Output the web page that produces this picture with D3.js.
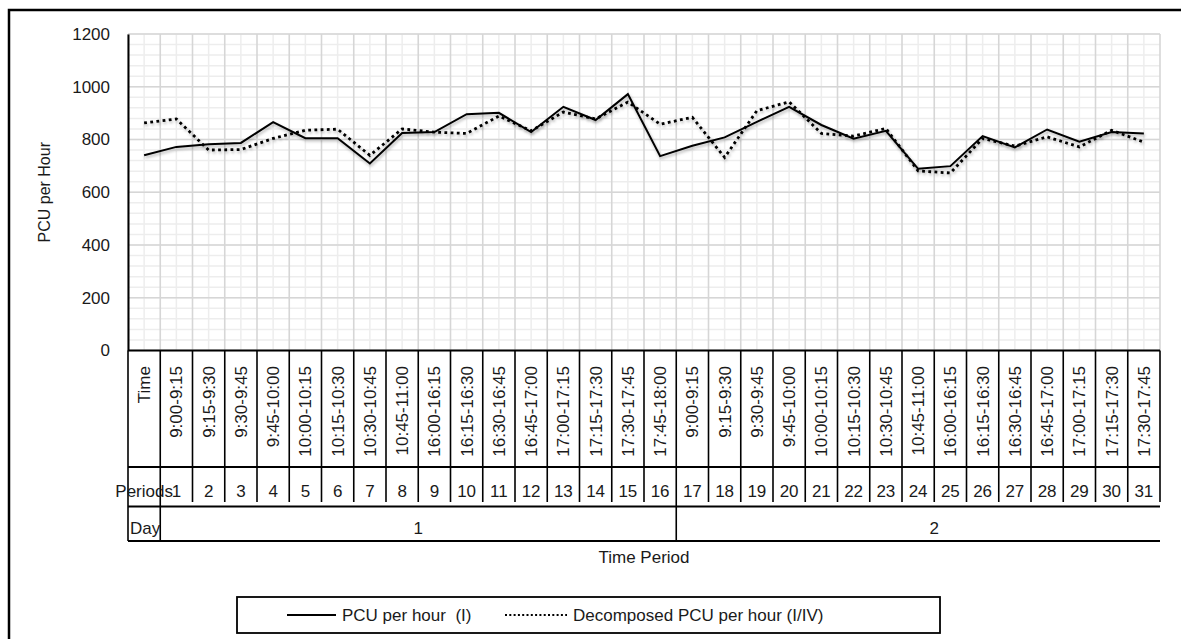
<!DOCTYPE html>
<html><head><meta charset="utf-8">
<script src="https://cdn.jsdelivr.net/npm/d3@7"></script>
<style>
body{margin:0;background:#fff}
svg{display:block}
text{font-family:"Liberation Sans",Arial,sans-serif;fill:#1a1a1a;white-space:pre}
</style></head>
<body><svg id="c" width="1181" height="639"></svg>
<script>
// ---- data ----
const headerLabels = ["Time", "Periods", "Day"];
const timeLabels = ["9:00-9:15","9:15-9:30","9:30-9:45","9:45-10:00","10:00-10:15","10:15-10:30","10:30-10:45","10:45-11:00","16:00-16:15","16:15-16:30","16:30-16:45","16:45-17:00","17:00-17:15","17:15-17:30","17:30-17:45","17:45-18:00","9:00-9:15","9:15-9:30","9:30-9:45","9:45-10:00","10:00-10:15","10:15-10:30","10:30-10:45","10:45-11:00","16:00-16:15","16:15-16:30","16:30-16:45","16:45-17:00","17:00-17:15","17:15-17:30","17:30-17:45"];
const periods = [1,2,3,4,5,6,7,8,9,10,11,12,13,14,15,16,17,18,19,20,21,22,23,24,25,26,27,28,29,30,31];
const days = ["1","2"];
const dayPeriodCount = [16,15];
const pcuPerHour = [740,772,782,787,866,805,805,709,825,828,896,901,828,924,874,972,737,776,808,867,924,855,803,833,689,699,813,770,838,792,828,823];
const decomposedPcu = [863,878,760,762,804,835,839,740,840,828,823,889,833,904,878,942,858,884,732,909,943,823,813,842,681,673,804,775,810,772,835,790];
const yTicks = [0,200,400,600,800,1000,1200];
const seriesNames = ["PCU per hour  (I)", "Decomposed PCU per hour (I/IV)"];

// ---- layout ----
const svg = d3.select("#c");
const L = 128, R = 1160, T = 34, B = 350.5;
const nCols = periods.length + 1;
const x = d3.scaleBand().domain(d3.range(nCols)).range([L, R]).padding(0);
const bw = x.bandwidth();
const cx = i => x(i) + bw / 2;
const y = d3.scaleLinear().domain([0, 1200]).range([B, T]);

svg.append("rect").attr("width",1181).attr("height",639).attr("fill","#fff");
// outer border (left and top edges visible)
svg.append("path").attr("d","M9,639 L9,10 L1181,10")
  .attr("fill","none").attr("stroke","#000").attr("stroke-width",2.5);

const defs = svg.append("defs");
const f = defs.append("filter").attr("id","sh").attr("x","-5%").attr("y","-20%").attr("width","110%").attr("height","140%");
f.append("feDropShadow").attr("dx",1).attr("dy",2).attr("stdDeviation",1.6)
  .attr("flood-color","#000").attr("flood-opacity",0.3);

// minor grid
const grid = svg.append("g");
grid.selectAll(".hmin").data(d3.range(0, 1201, 40)).join("line")
  .attr("x1", L).attr("x2", R).attr("y1", d => y(d)).attr("y2", d => y(d))
  .attr("stroke", "#ededed").attr("stroke-width", 1.5);
grid.selectAll(".vmin").data(d3.range(nCols)).join("line")
  .attr("x1", d => cx(d)).attr("x2", d => cx(d)).attr("y1", T).attr("y2", B)
  .attr("stroke", "#ededed").attr("stroke-width", 1.5);
// major grid
grid.selectAll(".hmaj").data(yTicks).join("line")
  .attr("x1", L).attr("x2", R).attr("y1", d => y(d)).attr("y2", d => y(d))
  .attr("stroke", "#d6d6d6").attr("stroke-width", 1.6);
grid.selectAll(".vmaj").data(d3.range(nCols + 1)).join("line")
  .attr("x1", d => L + d * bw).attr("x2", d => L + d * bw).attr("y1", T).attr("y2", B)
  .attr("stroke", "#d6d6d6").attr("stroke-width", 1.6);

// y axis
const yAxis = svg.append("g").attr("transform", `translate(${L},0)`)
  .call(d3.axisLeft(y).tickValues(yTicks).tickFormat(d3.format("d")).tickSize(0).tickPadding(18));
yAxis.select(".domain").attr("stroke", "#000").attr("stroke-width", 2);
yAxis.selectAll("text").attr("font-size", 17).attr("font-family", '"Liberation Sans",Arial,sans-serif').attr("fill", "#1a1a1a");

svg.append("text").attr("transform", `translate(50,${(T + B) / 2}) rotate(-90)`)
  .attr("text-anchor", "middle").attr("font-size", 16).text("PCU per Hour");

// lines
const line = d3.line().x((d, i) => cx(i)).y(d => y(d));
svg.append("path").datum(decomposedPcu).attr("d", line).attr("fill", "none")
  .attr("stroke", "#000").attr("stroke-width", 2.8).attr("stroke-dasharray", "2.8 3.4")
  .attr("filter", "url(#sh)");
svg.append("path").datum(pcuPerHour).attr("d", line).attr("fill", "none")
  .attr("stroke", "#000").attr("stroke-width", 2).attr("stroke-linejoin", "miter")
  .attr("filter", "url(#sh)");

// category table
const yTimeBot = 467, yPerBot = 502, yPerLine = 506.5, yDayBot = 541;
const tbl = svg.append("g").attr("stroke", "#000").attr("stroke-width", 1.6);
[B, yTimeBot, yPerLine, yDayBot].forEach(yy => {
  tbl.append("line").attr("x1", L).attr("x2", R).attr("y1", yy).attr("y2", yy)
    .attr("stroke-width", yy === B ? 2.2 : 1.8);
});
const daySep = [0, 1, 1 + dayPeriodCount[0]];
d3.range(nCols + 1).forEach(k => {
  const xx = L + k * bw;
  tbl.append("line").attr("x1", xx).attr("x2", xx).attr("y1", B)
    .attr("y2", daySep.includes(k) ? yDayBot : yPerBot);
});

// header column
svg.append("text").attr("transform", `translate(${cx(0) + 6},366) rotate(-90)`)
  .attr("text-anchor", "end").attr("font-size", 17).text(headerLabels[0]);
svg.append("text").attr("x", cx(0)).attr("y", 497).attr("text-anchor", "middle")
  .attr("font-size", 17).text(headerLabels[1]);
svg.append("text").attr("x", L + 2).attr("y", 534).attr("font-size", 17).text(headerLabels[2]);

// time labels
svg.selectAll(".tl").data(timeLabels).join("text")
  .attr("transform", (d, i) => `translate(${cx(i + 1) + 6},366) rotate(-90)`)
  .attr("text-anchor", "end").attr("font-size", 17).text(d => d);
// periods
svg.selectAll(".pl").data(periods).join("text")
  .attr("x", (d, i) => cx(i + 1)).attr("y", 497).attr("text-anchor", "middle")
  .attr("font-size", 17).text(d => d);
// days
let start = 1;
days.forEach((d, j) => {
  const x0 = x(start);
  const x1 = x0 + 16 * bw;
  svg.append("text").attr("x", (x0 + x1) / 2).attr("y", 534).attr("text-anchor", "middle")
    .attr("font-size", 17).text(d);
  start += dayPeriodCount[j];
});

svg.append("text").attr("x", (L + R) / 2).attr("y", 563).attr("text-anchor", "middle")
  .attr("font-size", 17).text("Time Period");

// legend
const lg = svg.append("g");
const ly = 615;
lg.append("rect").attr("x", 237).attr("y", 597).attr("width", 703).attr("height", 36)
  .attr("fill", "#fff").attr("stroke", "#000").attr("stroke-width", 1.8);
lg.append("line").attr("x1", 287).attr("x2", 336).attr("y1", ly).attr("y2", ly)
  .attr("stroke", "#000").attr("stroke-width", 2);
lg.append("text").attr("x", 342).attr("y", ly + 6).attr("font-size", 17).text(seriesNames[0]);
lg.append("line").attr("x1", 505).attr("x2", 567).attr("y1", ly).attr("y2", ly)
  .attr("stroke", "#000").attr("stroke-width", 2.2).attr("stroke-dasharray", "2 2.3");
lg.append("text").attr("x", 573).attr("y", ly + 6).attr("font-size", 17).text(seriesNames[1]);
</script></body></html>
